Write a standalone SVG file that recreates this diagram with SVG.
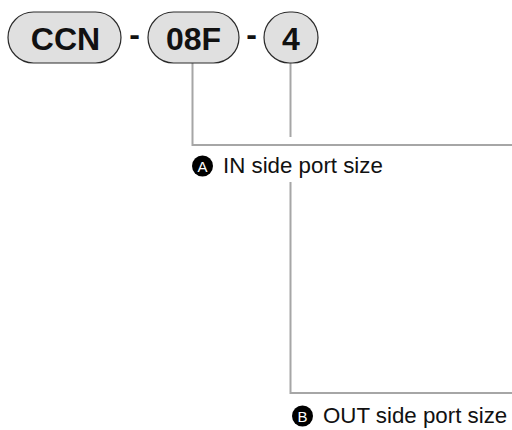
<svg xmlns="http://www.w3.org/2000/svg" width="512" height="430" viewBox="0 0 512 430">
  <style>
    .pill { fill: #e0e0e0; stroke: #2a2a2a; stroke-width: 1.2; }
    .code { font-family: "Liberation Sans", Arial, sans-serif; font-weight: bold; font-size: 32px; fill: #111; text-anchor: middle; }
    .dash { font-family: "Liberation Sans", Arial, sans-serif; font-weight: bold; font-size: 32px; fill: #111; text-anchor: middle; }
    .lead { fill: none; stroke: #a6a6a6; stroke-width: 2; }
    .badge { fill: #000; }
    .badge-t { font-family: "Liberation Sans", Arial, sans-serif; font-size: 15px; fill: #fff; text-anchor: middle; }
    .label { font-family: "Liberation Sans", Arial, sans-serif; font-size: 22.3px; fill: #111; }
  </style>

  <!-- leader lines -->
  <g id="connectors">
    <polyline class="lead" points="192.5,63 192.5,145 512,145"/>
    <line class="lead" x1="290.5" y1="63" x2="290.5" y2="137"/>
    <polyline class="lead" points="290.5,182 290.5,393 512,393"/>
  </g>

  <!-- model code segments -->
  <g id="seg-series">
    <rect class="pill" x="8" y="12" width="113" height="51" rx="25.5"/>
    <text class="code" x="65.5" y="49.5">CCN</text>
  </g>
  <text class="dash" x="134.5" y="44.5">-</text>
  <g id="seg-in">
    <rect class="pill" x="148" y="12" width="91" height="51" rx="25.5"/>
    <text class="code" x="193.5" y="49.5">08F</text>
  </g>
  <text class="dash" x="251.5" y="44.5">-</text>
  <g id="seg-out">
    <rect class="pill" x="264" y="12" width="54" height="51" rx="25.5"/>
    <text class="code" x="291" y="49.5">4</text>
  </g>

  <!-- legend labels -->
  <g id="label-a">
    <circle class="badge" cx="202.5" cy="166" r="10.5"/>
    <text class="badge-t" x="202.5" y="171.5">A</text>
    <text class="label" x="223" y="173">IN side port size</text>
  </g>
  <g id="label-b">
    <circle class="badge" cx="302.5" cy="416" r="10.5"/>
    <text class="badge-t" x="302.5" y="421.5">B</text>
    <text class="label" x="323" y="423">OUT side port size</text>
  </g>
</svg>
